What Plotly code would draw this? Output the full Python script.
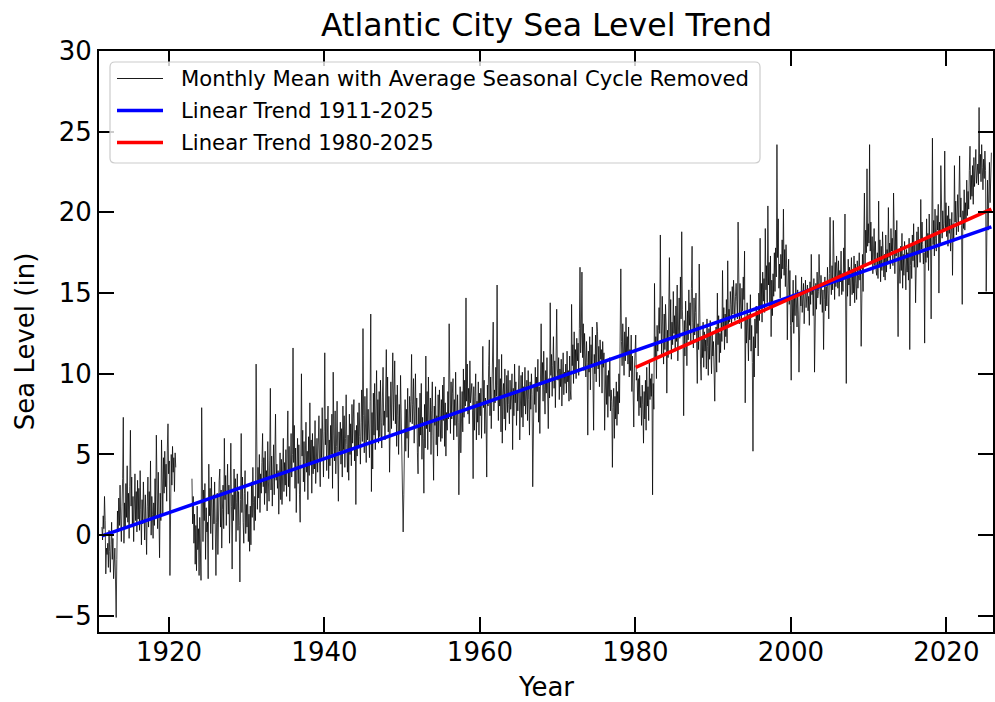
import plotly.graph_objects as go

# Monthly mean sea level at Atlantic City (inches), average seasonal cycle removed.
# Series starts May 1911; None marks months without observations.
level_1910s = [
    0.5, -0.3, 1.2, 0.4, 2.4, 0.9, -2.4, -0.8,                          # 1911 (May-Dec)
    -1.2, -0.5, -2.0, 0.3, -1.0, -2.3, -0.6, 0.8, -1.5, -0.2, -2.7, -1.1,  # 1912
    -0.8, -2.9, -5.1, -1.5, 1.5, 0.2, 2.3, 0.6, 3.1, 1.0, -0.4, 1.8,       # 1913
    3.5, 7.3, -0.5, 2.0, 0.4, 3.2, 1.1, 4.3, 0.8, 2.6, -0.2, 3.0,          # 1914
    6.5, 1.8, 3.6, 0.5, 2.4, -0.4, 1.5, 3.8, 0.9, 2.7, 0.2, 3.4,           # 1915
    1.0, 2.9, 0.3, 4.0, 1.6, -0.6, 2.2, 0.7, 3.3, 1.4, -0.3, 2.5,          # 1916
    0.2, -1.2, 1.8, 3.6, 0.5, 2.7, 1.1, 4.6, 0.0, 2.4, 1.3, -0.2,          # 1917
    2.0, 0.6, 3.5, 1.2, 6.2, 2.1, 0.4, 3.9, 1.5, -1.4, 2.6, 0.9,           # 1918
    5.9, 3.4, 1.2, 4.8, 2.6, 5.2, 3.0, 4.4, 2.1, 5.4, 6.9, 3.8,            # 1919
]
level_1920s = [
    4.6, -2.5, 2.0, 5.0, 3.1, 5.5, 3.9, 4.8, 2.7, 5.1, 4.2, None,          # 1920
    *([None] * 12),                                                        # 1921
    *([None] * 11), 3.5,                                                   # 1922
    0.7, 2.4, -0.5, 1.3, -1.8, 0.6, -2.2, 1.8, -0.9, 0.4, -2.5, 1.1,       # 1923
    -1.0, -2.8, 7.9, 1.5, -0.4, 2.8, 0.9, 3.2, -1.5, 1.7, 0.2, 0.8,        # 1924
    -2.7, 4.4, 1.2, 2.9, 0.1, 3.6, 1.8, -0.9, 2.5, 0.7, 3.3, 1.4,          # 1925
    -2.5, 0.8, 2.6, -1.2, 1.9, 3.4, 4.1, 0.5, 2.8, -0.8, 1.6, 3.1,         # 1926
    0.4, 6.0, 2.2, 3.7, 0.6, 2.9, 4.4, 1.3, 3.1, -0.5, 2.4, 5.7,           # 1927
    1.8, -2.1, 2.5, 0.9, 4.1, 1.6, 3.5, -0.4, 2.0, 3.8, 0.3, 2.7,          # 1928
    0.6, -2.9, 2.2, 6.3, 1.4, 3.6, 0.8, -0.5, 2.6, 4.0, 0.1, 1.9,          # 1929
]
level_1930s = [
    0.5, 2.7, -0.4, 1.3, -1.0, 1.8, -0.6, 3.3, 1.1, 4.2, 2.0, 0.3,         # 1930
    2.4, 0.9, 10.6, 3.5, 1.6, 4.2, 2.3, 5.0, 1.4, 3.8, 2.6, 4.5,           # 1931
    6.3, 3.0, 4.8, 1.9, 5.2, 2.6, 4.0, 1.5, 5.8, 3.3, 2.1, 4.6,            # 1932
    9.1, 2.8, 4.9, 1.8, 3.7, 5.6, 2.5, 4.1, 7.5, 3.4, 4.4, 2.9,            # 1933
    4.0, 1.3, 3.6, 5.1, 2.2, 4.7, 1.9, 3.9, 6.0, 2.7, 4.5, 3.1,            # 1934
    5.3, 2.4, 4.8, 7.7, 3.0, 5.5, 2.1, 4.2, 6.3, 3.6, 5.0, 11.6,           # 1935
    4.5, 6.8, 2.9, 5.4, 1.4, 4.1, 6.0, 3.2, 5.6, 2.5, 0.8, 4.7,            # 1936
    10.0, 4.9, 6.5, 3.3, 5.8, 2.7, 4.6, 7.0, 3.9, 5.2, 2.2, 6.1,           # 1937
    3.7, 8.2, 4.4, 5.9, 2.6, 6.3, 3.8, 5.5, 4.1, 7.1, 3.2, 5.0,            # 1938
    6.0, 3.9, 5.3, 7.4, 4.5, 3.0, 6.6, 4.8, 7.9, 5.1, 3.6, 6.4,            # 1939
]
level_1940s = [
    11.3, 5.6, 7.2, 4.0, 6.1, 8.0, 3.5, 5.9, 4.3, 6.8, 5.0, 7.5,           # 1940
    2.9, 10.1, 6.2, 4.6, 7.7, 3.8, 5.5, 8.3, 4.9, 2.1, 6.4, 5.2,           # 1941
    7.0, 4.4, 6.6, 3.6, 8.0, 5.3, 7.4, 4.2, 6.0, 8.7, 5.6, 3.9,            # 1942
    6.2, 3.4, 7.5, 5.0, 6.9, 4.3, 8.1, 5.7, 7.2, 8.4, 4.6, 6.5,            # 1943
    1.9, 6.8, 4.9, 7.6, 5.4, 8.2, 6.1, 4.4, 7.0, 9.0, 5.8, 12.8,           # 1944
    7.4, 5.1, 8.6, 6.3, 4.5, 9.1, 5.9, 7.8, 6.7, 4.8, 8.3, 13.7,           # 1945
    2.7, 7.6, 4.1, 8.8, 6.2, 9.4, 5.3, 7.9, 10.2, 6.5, 8.4, 5.7,           # 1946
    8.9, 6.1, 9.6, 7.0, 5.4, 8.5, 10.4, 6.8, 7.7, 5.9, 9.2, 11.5,          # 1947
    7.3, 9.8, 6.4, 8.6, 3.9, 7.9, 9.5, 6.6, 8.2, 11.3, 7.1, 9.0,           # 1948
    10.8, 6.9, 8.7, 5.5, 9.3, 7.4, 5.0, 8.1, 6.3, 9.9, 7.6, 5.8,           # 1949
]
level_1950s = [
    4.1, 0.2, 2.5, 6.7, 8.4, 5.2, 7.8, 6.0, 9.1, 4.8, 7.2, 8.6,            # 1950
    7.0, 8.3, 11.2, 6.9, 8.1, 9.7, 5.7, 7.6, 10.0, 6.8, 8.5, 5.1,          # 1951
    3.8, 7.9, 5.5, 8.8, 6.2, 9.4, 4.7, 7.3, 6.0, 2.6, 8.1, 5.4,            # 1952
    11.1, 6.6, 8.9, 5.3, 9.8, 7.1, 6.4, 8.5, 5.0, 7.7, 9.5, 6.2,           # 1953
    3.4, 8.0, 6.8, 9.2, 5.6, 7.4, 4.9, 8.7, 6.1, 9.0, 7.3, 5.8,            # 1954
    8.4, 6.0, 9.3, 7.1, 9.8, 5.5, 8.2, 4.9, 7.6, 6.5, 8.9, 7.2,            # 1955
    13.1, 8.0, 6.3, 9.5, 7.2, 8.8, 9.7, 5.9, 8.4, 6.8, 10.1, 7.5,          # 1956
    6.1, 8.7, 7.0, 2.5, 6.6, 9.2, 5.1, 7.8, 8.9, 6.4, 10.3, 7.3,           # 1957
    9.6, 8.0, 14.7, 8.3, 10.6, 7.5, 9.1, 6.9, 10.8, 8.2, 9.0, 9.4,         # 1958
    7.7, 3.5, 9.2, 6.5, 8.6, 10.0, 5.9, 8.3, 7.0, 9.5, 6.2, 8.8,           # 1959
]
level_1960s = [
    7.4, 9.1, 6.0, 8.7, 11.7, 7.9, 9.6, 6.3, 8.5, 7.2, 3.6, 9.3,           # 1960
    8.0, 10.5, 12.1, 7.4, 9.8, 6.6, 8.9, 10.2, 13.2, 7.7, 9.0, 8.2,        # 1961
    10.4, 8.6, 15.5, 9.3, 7.1, 10.9, 8.0, 9.7, 6.4, 11.2, 5.7, 8.8,        # 1962
    9.4, 7.2, 10.3, 6.5, 8.8, 9.9, 7.6, 10.2, 8.1, 6.9, 9.6, 7.8,          # 1963
    8.5, 10.0, 5.3, 9.1, 7.4, 10.6, 8.2, 9.5, 6.8, 8.9, 7.7, 9.8,          # 1964
    10.5, 5.9, 8.6, 9.9, 7.3, 10.1, 6.7, 9.2, 8.0, 10.4, 7.5, 8.8,         # 1965
    9.6, 7.1, 10.2, 8.4, 6.2, 9.5, 7.8, 10.0, 8.7, 3.0, 7.4, 9.3,          # 1966
    8.1, 10.4, 7.6, 9.8, 8.9, 10.9, 7.0, 9.2, 6.3, 11.0, 13.1, 9.5,        # 1967
    10.7, 8.3, 11.4, 9.0, 7.5, 10.2, 8.8, 11.0, 7.0, 6.6, 9.7, 8.5,        # 1968
    14.4, 9.9, 11.2, 8.6, 10.5, 12.3, 9.1, 10.8, 7.9, 11.6, 14.0, 10.3,    # 1969
]
level_1970s = [
    9.6, 11.0, 8.4, 10.3, 9.2, 10.9, 8.0, 9.8, 11.3, 8.7, 10.1, 9.4,       # 1970
    10.6, 8.8, 11.4, 9.5, 10.2, 8.3, 11.1, 9.0, 8.4, 14.3, 10.5, 11.8,     # 1971
    9.4, 12.6, 10.0, 11.5, 9.7, 12.2, 10.8, 11.9, 9.9, 12.8, 16.6, 11.3,   # 1972
    12.4, 16.3, 11.0, 13.1, 10.2, 12.5, 11.6, 9.8, 12.0, 10.7, 6.2, 11.4,  # 1973
    10.1, 12.3, 9.0, 11.8, 10.4, 12.9, 9.6, 6.5, 11.2, 10.0, 12.4, 9.5,    # 1974
    13.2, 12.6, 10.3, 11.7, 9.2, 12.1, 10.9, 11.5, 8.8, 12.0, 10.4, 11.3,  # 1975
    6.5, 9.4, 10.8, 8.1, 9.9, 7.3, 10.2, 8.6, 11.0, 7.7, 9.0, 8.3,         # 1976
    4.2, 7.9, 9.1, 6.0, 8.6, 7.2, 9.5, 6.8, 8.9, 7.5, 10.0, 8.2,           # 1977
    11.4, 16.5, 12.0, 10.5, 13.1, 11.7, 9.9, 12.6, 10.8, 13.5, 11.2, 12.3, # 1978
    10.6, 12.9, 9.8, 11.5, 10.2, 12.4, 8.9, 11.1, 9.5, 6.7, 10.3, 11.8,    # 1979
]
level_1980s = [
    12.4, 9.6, 10.1, 8.3, 9.7, 7.4, 9.9, 7.9, 8.6, 6.8, 9.3, 8.1,          # 1980
    5.7, 8.9, 7.2, 9.6, 6.5, 10.4, 8.0, 9.2, 7.1, 10.8, 8.4, 9.7,          # 1981
    8.6, 10.0, 2.5, 9.4, 7.8, 15.6, 10.9, 12.3, 9.7, 13.0, 11.4, 12.7,     # 1982
    14.1, 12.5, 18.6, 13.4, 11.2, 14.8, 12.0, 10.6, 13.7, 11.5, 14.3, 12.9,  # 1983
    8.8, 12.7, 11.0, 13.9, 17.2, 12.3, 14.6, 10.9, 13.2, 11.8, 15.1, 12.5,   # 1984
    13.6, 11.4, 14.2, 12.0, 15.5, 10.8, 13.1, 14.7, 12.2, 16.0, 13.4, 18.8,  # 1985
    14.0, 12.6, 7.4, 13.3, 11.1, 14.5, 12.8, 10.5, 13.9, 12.1, 15.2, 13.0,   # 1986
    14.4, 12.0, 15.3, 17.9, 13.2, 11.6, 14.7, 12.4, 13.8, 15.0, 11.9, 9.4,   # 1987
    13.1, 11.5, 16.8, 12.0, 10.6, 9.6, 12.3, 11.0, 13.2, 10.4, 12.6, 11.4,   # 1988
    12.1, 10.3, 13.4, 11.7, 9.9, 12.8, 10.9, 13.3, 11.5, 10.0, 12.4, 11.1,   # 1989
]
level_1990s = [
    12.0, 10.5, 8.3, 11.6, 12.9, 10.1, 15.0, 11.8, 13.6, 10.7, 12.5, 11.3,   # 1990
    13.2, 12.0, 16.4, 12.8, 14.1, 11.5, 13.7, 12.3, 14.6, 11.9, 17.0, 13.1,  # 1991
    14.0, 13.2, 15.1, 14.3, 13.0, 15.4, 13.7, 15.8, 14.0, 13.3, 14.8, 15.6,  # 1992
    14.5, 13.4, 19.4, 14.9, 13.1, 15.6, 14.2, 12.8, 15.3, 13.9, 16.0, 14.6,  # 1993
    17.6, 8.2, 13.5, 11.9, 14.4, 12.6, 10.8, 13.7, 12.1, 14.9, 11.4, 13.0,   # 1994
    10.7, 5.2, 12.3, 9.8, 13.4, 11.6, 14.2, 12.5, 13.9, 11.1, 15.0, 13.3,    # 1995
    18.4, 14.0, 15.6, 13.2, 16.3, 14.5, 15.9, 13.8, 19.0, 15.2, 16.7, 14.4,  # 1996
    20.4, 15.5, 16.9, 14.1, 17.3, 12.3, 15.8, 13.6, 16.2, 14.8, 17.5, 15.1,  # 1997
    17.8, 16.0, 24.2, 17.2, 19.6, 15.3, 16.8, 14.7, 17.4, 15.9, 18.3, 16.5,  # 1998
    20.2, 16.1, 17.7, 15.4, 18.0, 16.6, 12.1, 15.2, 17.1, 14.3, 16.4, 13.0,  # 1999
]
level_2000s = [
    9.6, 14.6, 13.2, 15.8, 12.5, 14.9, 13.6, 16.1, 14.0, 12.9, 15.2, 13.7,   # 2000
    10.1, 13.5, 15.0, 14.2, 16.0, 13.8, 14.7, 15.6, 13.1, 14.9, 15.8, 14.1,  # 2001
    14.6, 15.5, 13.9, 14.8, 13.0, 15.7, 14.3, 17.4, 14.9, 15.3, 13.6, 15.9,  # 2002
    10.1, 14.8, 15.6, 14.0, 16.3, 14.7, 15.1, 17.4, 15.5, 14.3, 16.1, 15.0,  # 2003
    13.8, 15.2, 11.5, 14.6, 16.0, 13.9, 15.4, 14.2, 16.6, 15.0, 13.4, 16.2,  # 2004
    19.7, 15.8, 14.9, 16.7, 15.2, 19.5, 15.9, 14.6, 16.9, 15.4, 17.3, 16.1,  # 2005
    15.3, 17.0, 14.8, 16.4, 15.7, 17.6, 14.9, 16.2, 15.1, 17.8, 16.0, 19.9,  # 2006
    14.5, 9.4, 16.3, 14.8, 17.1, 15.5, 16.6, 14.2, 15.9, 17.2, 14.9, 16.4,   # 2007
    15.0, 17.3, 14.4, 16.8, 15.6, 14.6, 17.0, 15.3, 16.1, 17.5, 15.8, 16.6,  # 2008
    11.7, 16.2, 17.4, 15.1, 18.0, 21.2, 16.8, 18.9, 17.5, 22.7, 17.9, 19.3,  # 2009
]
level_2010s = [
    18.1, 24.2, 17.6, 19.4, 16.9, 18.5, 16.2, 17.8, 19.0, 16.7, 18.2, 16.4,  # 2010
    16.1, 17.5, 15.9, 20.7, 16.6, 18.3, 15.7, 17.9, 16.4, 18.8, 17.1, 16.0,  # 2011
    17.4, 15.8, 18.6, 16.3, 17.7, 16.9, 20.3, 17.2, 18.1, 16.5, 19.0, 17.6,  # 2012
    18.4, 16.7, 21.2, 17.8, 16.2, 18.9, 17.3, 19.5, 16.8, 12.3, 17.6, 16.1,  # 2013
    15.6, 17.9, 16.4, 18.7, 15.3, 17.4, 16.1, 18.2, 16.9, 15.2, 17.7, 16.3,  # 2014
    17.5, 15.8, 18.4, 11.5, 16.7, 17.9, 15.9, 18.6, 17.0, 19.3, 16.6, 18.1,  # 2015
    14.4, 17.2, 18.8, 16.6, 19.1, 17.4, 18.3, 16.9, 20.8, 17.7, 19.4, 18.0,  # 2016
    16.8, 17.5, 11.9, 18.3, 16.9, 19.6, 17.2, 18.7, 16.4, 19.9, 17.8, 18.5,  # 2017
    13.4, 18.6, 24.6, 18.0, 19.5, 17.3, 20.2, 18.4, 17.6, 19.8, 18.9, 20.5,  # 2018
    15.0, 19.4, 18.1, 22.9, 19.7, 18.4, 20.1, 18.8, 19.3, 23.8, 19.0, 20.6,  # 2019
]
level_2020s = [
    18.5, 19.8, 17.9, 20.4, 18.7, 19.6, 17.6, 19.1, 20.0, 16.1, 19.3, 18.2,  # 2020
    22.9, 19.4, 20.7, 18.6, 19.9, 21.1, 18.8, 20.3, 23.5, 19.7, 20.9, 19.2,  # 2021
    14.3, 20.1, 19.0, 21.4, 18.9, 20.6, 19.5, 22.0, 19.8, 21.3, 20.2, 22.6,  # 2022
    24.1, 20.8, 22.3, 21.0, 22.9, 20.5, 23.4, 21.6, 22.7, 23.9, 21.8, 22.5,  # 2023
    23.0, 21.7, 26.5, 22.4, 23.6, 21.9, 24.2, 22.8, 21.4, 23.3, 22.1, 23.8,  # 2024
    22.6, 15.1, 20.4, 22.0, 18.9, 21.5, 23.1, 20.6, 22.4, 23.7,              # 2025 (Jan-Oct)
]

FIRST_YEAR = 1911
FIRST_MONTH = 5  # May

# Linear trend end points (decimal year, inches)
trend_full_years = [1911.375, 2025.79]
trend_full_level = [-0.05, 19.1]
trend_recent_years = [1980.04, 2025.79]
trend_recent_level = [10.4, 20.2]

legend_labels = [
    "Monthly Mean with Average Seasonal Cycle Removed",
    "Linear Trend 1911-2025",
    "Linear Trend 1980-2025",
]
legend_colors = ["black", "blue", "red"]
legend_widths = [0.9, 3.5, 3.5]

x_ticks = [1920, 1940, 1960, 1980, 2000, 2020]
y_ticks = [-5, 0, 5, 10, 15, 20, 25, 30]

monthly = (level_1910s + level_1920s + level_1930s + level_1940s + level_1950s
           + level_1960s + level_1970s + level_1980s + level_1990s
           + level_2000s + level_2010s + level_2020s)
decimal_year = [FIRST_YEAR + (FIRST_MONTH - 1 + i + 0.5) / 12 for i in range(len(monthly))]

FONT = "DejaVu Sans"
W, H = 995, 702
M_L, M_R, M_T, M_B = 99, 2, 51, 70
PW, PH = W - M_L - M_R, H - M_T - M_B


def px_x(p):
    return (p - M_L) / PW


def px_y(p):
    return (H - M_B - p) / PH


fig = go.Figure()
fig.add_trace(go.Scatter(x=decimal_year, y=monthly, mode="lines",
                         line=dict(color="black", width=0.75),
                         connectgaps=False, hoverinfo="skip"))
fig.add_trace(go.Scatter(x=trend_full_years, y=trend_full_level, mode="lines",
                         line=dict(color="blue", width=3.5)))
fig.add_trace(go.Scatter(x=trend_recent_years, y=trend_recent_level, mode="lines",
                         line=dict(color="red", width=3.5)))

axis_common = dict(
    ticks="inside", ticklen=15, tickwidth=2, tickcolor="black",
    showline=True, linewidth=2, linecolor="black", mirror="ticks",
    showgrid=False, zeroline=False,
    tickfont=dict(family=FONT, size=26, color="black"),
)

fig.update_layout(
    width=W, height=H,
    margin=dict(l=M_L, r=M_R, t=M_T, b=M_B, autoexpand=False),
    paper_bgcolor="white", plot_bgcolor="white",
    font=dict(family=FONT, color="black"),
    showlegend=False,
    title=dict(text="Atlantic City Sea Level Trend", x=546.5 / W,
               xanchor="center", y=1 - 25 / H, yanchor="middle", yref="container",
               font=dict(family=FONT, size=31.6, color="black")),
    xaxis=dict(range=[1911, 2026], tickvals=x_ticks, ticklabelstandoff=-4,
               **axis_common),
    yaxis=dict(range=[-6, 30], tickvals=y_ticks,
               title=dict(text="Sea Level (in)", standoff=11, font=dict(family=FONT, size=26)),
               **axis_common),
)

# x-axis title
fig.add_annotation(text="Year", xref="paper", yref="paper", x=0.5, y=px_y(686.5),
                   xanchor="center", yanchor="middle", showarrow=False, borderpad=0,
                   font=dict(family=FONT, size=26, color="black"))

# Legend box with rounded corners
x0, x1 = px_x(110), px_x(760)
yt, yb = px_y(62), px_y(163)
rx, ry = 5 / PW, 5 / PH
box = (f"M {x0 + rx},{yt} L {x1 - rx},{yt} Q {x1},{yt} {x1},{yt - ry} "
       f"L {x1},{yb + ry} Q {x1},{yb} {x1 - rx},{yb} L {x0 + rx},{yb} "
       f"Q {x0},{yb} {x0},{yb + ry} L {x0},{yt - ry} Q {x0},{yt} {x0 + rx},{yt} Z")
fig.add_shape(type="path", path=box, xref="paper", yref="paper",
              fillcolor="rgba(255,255,255,0.8)", line=dict(color="#cccccc", width=1.2))

rows = [78.5, 110.5, 142.5]
for row, label, color, width in zip(rows, legend_labels, legend_colors, legend_widths):
    fig.add_shape(type="line", xref="paper", yref="paper",
                  x0=px_x(117), x1=px_x(163), y0=px_y(row), y1=px_y(row),
                  line=dict(color=color, width=width))
    fig.add_annotation(text=label, xref="paper", yref="paper",
                       x=px_x(179), y=px_y(row), xanchor="left", yanchor="middle",
                       showarrow=False, font=dict(family=FONT, size=21.2, color="black"))

fig.write_html("out.html")
